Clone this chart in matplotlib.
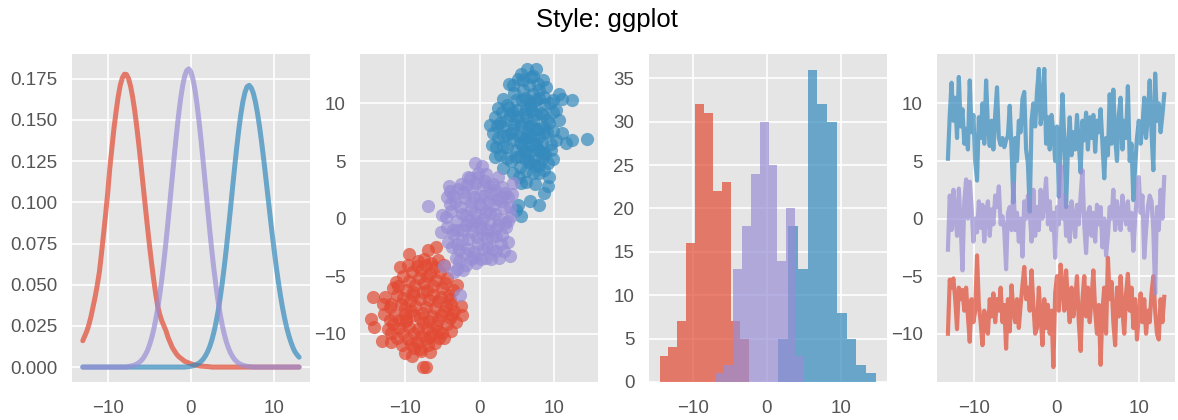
import numpy as np
import matplotlib
matplotlib.use("Agg")
import matplotlib.pyplot as plt

plt.style.use("ggplot")
plt.rcParams["font.family"] = ["Liberation Sans", "DejaVu Sans"]

RED, BLUE, PURPLE = "#E24A33", "#348ABD", "#988ED5"

# ---- panel 1: density curves, read every 0.25 from -13 to 13 ----
kde_x = np.linspace(-13, 13, 105)
kde_red = [0.016, 0.019, 0.022, 0.026, 0.031, 0.037, 0.043, 0.050, 0.058, 0.069,
           0.081, 0.093, 0.106, 0.121, 0.133, 0.145, 0.155, 0.164, 0.171, 0.1755,
           0.1778, 0.1776, 0.1751, 0.1704, 0.1637, 0.1553, 0.1454, 0.1344, 0.1226, 0.1104,
           0.0982, 0.0862, 0.0747, 0.0639, 0.0539, 0.0449, 0.037, 0.032, 0.028, 0.025,
           0.022, 0.018, 0.015, 0.012, 0.010, 0.008, 0.0065, 0.0055, 0.0045, 0.0035,
           0.003, 0.0025, 0.002, 0.0015, 0.0012, 0.001, 0.0008, 0.0006, 0.0005, 0.0004,
           0.0003, 0.0002] + [0.0] * 43
kde_blue = [0.0] * 50 + [
    0.0002, 0.0003, 0.0005, 0.0008, 0.0012, 0.0018, 0.0025, 0.0036, 0.005, 0.0069,
    0.0093, 0.0123, 0.0162, 0.021, 0.0267, 0.0335, 0.0415, 0.0506, 0.0607, 0.0718,
    0.0837, 0.0961, 0.1088, 0.1213, 0.1332, 0.1441, 0.1536, 0.1613, 0.1669, 0.1702,
    0.171, 0.1695, 0.1662, 0.161, 0.1541, 0.1458, 0.1363, 0.1259, 0.1149, 0.1037,
    0.0925, 0.0815, 0.071, 0.0611, 0.052, 0.0437, 0.0363, 0.0298, 0.0242, 0.0194,
    0.0154, 0.012, 0.0093, 0.0075, 0.006]
kde_purple = [0.0] * 22 + [
    0.0004, 0.0006, 0.0009, 0.0013, 0.0019, 0.0027, 0.0038, 0.0053, 0.0073, 0.0098,
    0.0131, 0.0172, 0.0222, 0.0283, 0.0355, 0.0439, 0.0535, 0.0643, 0.076, 0.0886,
    0.1017, 0.1151, 0.1283, 0.1409, 0.1525, 0.1626, 0.1707, 0.1767, 0.1801, 0.181,
    0.1791, 0.1746, 0.1677, 0.1587, 0.148, 0.136, 0.1231, 0.1098, 0.0965, 0.0835,
    0.0712, 0.0598, 0.0495, 0.0404, 0.0325, 0.0257, 0.0201, 0.0154, 0.0117, 0.0087,
    0.0064, 0.0046, 0.0033, 0.0023, 0.0016, 0.0011, 0.0007, 0.0005, 0.0003, 0.0002] + [0.0] * 23

# ---- panel 2: scatter clusters ----
sc_red_x = [-6.95, -5.85, -9.4, -8.3, -7.5, -6.5, -5.6, -14.2, -12.7, -12.0, -14.5, -14.1,
            -13.1, -11.8, -10.0, -9.1, -7.8, -7.6, -7.2, -2.55, -2.33, -3.0, -4.1, -3.65,
            -4.75, -5.6, -11.2, -10.2, -9.0, -7.8, -6.6, -5.3, -4.3, -11.0, -9.8, -8.6,
            -7.4, -6.2, -5.0, -3.8, -10.5, -9.3, -8.0, -6.8, -5.6, -4.5, -11.3, -10.0,
            -8.8, -7.6, -6.4, -5.2, -3.2, -10.8, -9.5, -8.2, -7.0, -5.8, -4.4, -12.2,
            -11.0, -9.6, -8.4, -7.2, -6.0, -12.8, -8.8, -6.6, -10.4, -8.9, -7.1, -9.9,
            -10.6, -9.6, -8.4, -7.2, -6.0, -4.8, -10.9, -9.5, -8.1, -7.0, -5.8, -4.6,
            -3.6, -11.6, -10.2, -8.9, -7.6, -6.2, -5.1, -4.0, -11.8, -10.0, -8.6, -7.2,
            -6.0, -4.8, -3.4, -12.0, -10.6, -9.2, -8.0, -6.8, -5.6, -4.0, -11.6, -10.2,
            -8.8, -7.6, -6.4, -5.0, -3.8, -9.2, -7.8, -6.6, -5.4, -11.8, -9.9, -8.0,
            -6.9, -12.9]
sc_red_y = [-2.7, -2.5, -3.1, -3.7, -3.5, -3.9, -3.6, -6.85, -6.85, -7.7, -8.7, -9.4,
            -10.6, -10.7, -11.7, -11.9, -11.5, -12.9, -12.9, -7.6, -8.4, -5.8, -6.6, -8.4,
            -10.4, -9.8, -5.5, -5.0, -4.6, -4.5, -4.8, -4.6, -5.2, -6.6, -6.2, -5.8,
            -5.6, -5.9, -6.0, -7.4, -7.4, -7.2, -7.0, -7.1, -7.2, -7.6, -8.4, -8.3,
            -8.4, -8.2, -8.5, -8.4, -9.0, -9.5, -9.4, -9.6, -9.5, -9.3, -9.2, -9.6,
            -10.4, -10.5, -10.7, -10.5, -10.8, -8.3, -11.2, -11.6, -11.0, -6.4, -6.2, -8.9,
            -4.2, -4.0, -4.1, -4.0, -4.2, -4.0, -5.9, -5.4, -5.2, -5.0, -5.3, -5.6,
            -6.2, -6.0, -6.9, -6.6, -6.4, -6.6, -6.8, -7.0, -7.4, -7.8, -7.6, -7.7,
            -7.8, -8.0, -8.0, -8.8, -8.8, -8.0, -8.6, -8.9, -8.8, -8.6, -9.2, -9.9,
            -9.9, -9.1, -9.9, -9.9, -9.8, -10.9, -10.2, -10.3, -10.4, -9.9, -8.8, -11.3,
            -11.0, -7.4]
sc_blue_x = [6.37, 7.56, 5.58, 6.9, 5.14, 8.44, 4.48, 3.96, 8.88, 8.0, 7.12, 5.8,
             3.16, 3.6, 4.92, 10.64, 11.08, 12.4, 9.76, 8.66, 2.95, 2.07, 1.41, 2.73,
             4.48, 6.68, 7.56, 9.76, 10.64, 9.32, 8.44, 7.12, 6.24, 5.36, 4.48, 3.6,
             2.5, 1.85, 1.63, 3.16, 4.48, 5.36, 6.68, 8.0, 10.2, 11.52, 12.4, 14.42,
             2.73, 2.07, 3.6, 4.92, 6.24, 7.12, 8.44, 9.1, 8.0, 6.68, 5.36, 3.16,
             4.48, 6.24, 7.12, 8.0, 9.32, 9.1, 8.66, 5.58, 6.68, 8.0, 5.14, 5.58,
             4.92, 6.5, 7.5, 7.0, 8.0, 6.0, 7.8, 6.2, 8.5, 5.8, 7.3, 8.3,
             6.0, 9.0, 9.5, 5.0, 4.0, 3.0, 7.0, 8.0, 6.0,
             5.8, 7.2, 6.6, 7.8, 4.6, 5.6, 6.6, 7.6, 8.6, 9.4, 3.9, 5.0,
             6.0, 7.0, 8.2, 9.0, 10.2, 2.4, 3.6, 4.6, 5.6, 6.6, 7.6, 8.6,
             9.8, 11.0, 2.3, 3.1, 4.2, 5.2, 6.2, 7.2, 8.4, 9.6, 2.2, 3.6,
             4.8, 5.8, 6.8, 7.8, 8.8, 9.8, 4.2, 5.4, 6.6, 7.6, 8.6, 5.2,
             6.2, 7.4]
sc_blue_y = [13.0, 13.0, 12.58, 12.29, 12.14, 12.0, 11.57, 11.71, 11.42, 11.14, 10.85, 11.14,
             10.42, 9.84, 10.27, 10.85, 10.42, 10.33, 10.27, 9.99, 9.27, 8.83, 8.12, 8.26,
             9.27, 9.7, 9.12, 9.27, 8.55, 8.26, 7.97, 8.55, 8.83, 8.26, 7.68, 7.25,
             6.96, 7.4, 6.39, 6.24, 6.82, 6.53, 7.11, 7.11, 6.82, 6.53, 6.82, 6.9,
             5.53, 5.38, 5.24, 5.38, 5.67, 5.96, 5.67, 4.81, 4.66, 4.81, 4.52, 4.37,
             3.94, 4.09, 3.94, 3.94, 3.65, 2.79, 2.22, 3.08, 1.5, 1.15, 1.21, 0.2,
             0.78, 7.5, 6.5, 8.0, 6.0, 6.0, 7.8, 9.5, 9.0, 7.0, 5.0, 5.2,
             5.2, 7.5, 6.5, 8.8, 9.0, 8.0, 10.0, 10.5, 10.5,
             12.0, 12.4, 11.6, 11.7, 10.9, 10.3, 10.2, 10.3, 10.6, 10.0, 9.6, 9.4,
             9.2, 9.4, 9.2, 8.6, 9.4, 9.6, 8.6, 8.2, 8.0, 8.0, 7.8, 7.4,
             7.6, 7.4, 8.0, 7.2, 7.4, 7.2, 7.0, 7.0, 6.6, 6.0, 6.2, 6.2,
             6.0, 6.2, 6.4, 6.0, 5.6, 5.2, 5.0, 5.4, 5.0, 4.6, 4.2, 3.6,
             3.2, 3.0]
sc_purple_x = [-6.9, -5.2, -4.75, -2.6, -3.0, -3.2, -2.8, -0.6, 0.3, 0.8, -0.3, -1.3,
               -2.5, -4.1, -4.3, -3.5, -2.2, -1.0, 0.5, 1.8, 3.0, 3.8, 4.5, 2.3,
               1.2, 0.0, -1.2, -2.6, -3.8, -4.5, -3.0, -1.8, -0.6, 0.8, 2.0, 3.2,
               4.2, 3.5, 2.5, 1.4, 0.2, -1.0, -2.2, -3.6, -4.2, -3.0, -1.6, -0.3,
               1.0, 2.2, 3.8, 3.2, 1.6, 0.4, -0.8, -2.0, -1.2, 0.2, 1.5, 2.6,
               4.0, -2.2, -0.5, 0.5, -0.5, 1.5, -1.8, 2.8, 0.0, -3.5,
               -3.9, -2.9, -1.7, -0.5, 0.7, 2.0, 3.4, -3.3, -2.0, -0.8, 0.6, 1.8,
               3.0, 4.0, -4.0, -2.4, -1.2, 0.2, 1.4, 2.6, 3.8, -4.3, -2.9, -1.4,
               0.0, 1.0, 2.0, 3.0, -3.7, -2.4, -1.0, 0.5, 1.6, 2.8, -2.7, -1.5,
               -0.2, 1.0, 2.2, 0.8, -0.8, -1.8, 3.4, 4.3, -0.2, 1.3, -1.6, -5.0,
               2.4, -3.4]
sc_purple_y = [1.05, -1.2, -4.1, -6.6, -4.4, -3.4, -2.7, 4.8, 4.6, 3.9, 3.6, 3.5,
               3.0, 2.8, 1.9, 2.0, 2.3, 2.6, 2.9, 3.0, 2.7, 1.9, 3.1, 1.7,
               1.5, 1.3, 1.4, 1.0, 0.7, 0.1, -0.2, 0.3, 0.5, 0.6, 0.4, 0.9,
               0.2, -0.7, -0.6, -0.5, -0.8, -0.6, -1.0, -1.3, -2.0, -2.2, -1.8, -1.6,
               -1.7, -1.5, -2.0, -2.8, -2.6, -2.6, -2.9, -3.0, -3.5, -3.5, -3.5, -3.4,
               -3.25, -4.5, -3.9, 0.0, -0.2, 2.2, -0.6, 1.5, 2.0, -1.0,
               2.4, 2.6, 2.9, 3.1, 3.3, 2.5, 2.2, 1.4, 1.8, 1.9, 2.0, 1.2,
               1.9, 1.0, 1.3, 0.4, 0.8, 0.9, 0.5, 0.0, -0.2, -0.7, -1.0, -0.2,
               -0.4, -1.0, -0.9, -1.4, -2.5, -1.9, -1.2, -1.3, -1.6, -2.2, -3.7, -2.6,
               -2.2, -2.5, -2.8, -3.4, -3.3, -4.0, -0.4, 2.1, 4.0, 2.8, 3.6, 0.3,
               3.6, -4.6]

# ---- panel 3: histogram counts and bin edges ----
hist_red = [3, 4, 7, 16, 32, 31, 22, 23, 7, 5]
edges_red = [-14.47, -13.27, -12.06, -10.86, -9.66, -8.45, -7.25, -6.04, -4.84, -3.63, -2.43]
hist_blue = [5, 18, 13, 36, 32, 30, 8, 5, 2, 1]
edges_blue = [1.55, 2.86, 4.18, 5.49, 6.81, 8.12, 9.43, 10.75, 12.06, 13.38, 14.69]
hist_purple = [1, 2, 13, 18, 24, 30, 25, 14, 20, 3]
edges_purple = [-6.95, -5.76, -4.56, -3.37, -2.17, -0.98, 0.22, 1.41, 2.61, 3.80, 5.00]

# ---- panel 4: noisy series ----
line_x = np.linspace(-13.2, 13.05, 120)
line_red = [-10.0, -5.3, -6.0, -5.2, -7.0, -9.6, -6.0, -7.0, -6.2, -8.0,
            -6.0, -8.5, -10.7, -7.0, -9.0, -8.0, -3.2, -7.5, -9.0, -11.0,
            -8.0, -9.5, -10.0, -7.0, -8.5, -6.5, -9.0, -7.0, -8.0, -6.0,
            -9.0, -7.5, -11.3, -7.0, -9.8, -5.8, -8.0, -9.0, -7.0, -9.5,
            -7.5, -5.8, -4.2, -7.0, -6.0, -8.0, -4.5, -7.5, -10.0, -9.5,
            -6.0, -8.5, -11.0, -7.0, -9.5, -7.5, -10.0, -8.0, -12.9, -6.5,
            -5.0, -8.0, -4.0, -6.0, -8.0, -4.5, -7.0, -9.0, -6.0, -8.5,
            -7.0, -5.0, -9.0, -11.5, -7.0, -5.0, -8.5, -6.0, -9.0, -7.0,
            -4.5, -8.0, -10.0, -7.5, -12.7, -8.0, -6.0, -10.0, -3.4, -7.0,
            -5.5, -9.0, -11.0, -6.0, -8.5, -5.0, -8.0, -10.0, -6.5, -4.8,
            -8.0, -6.0, -9.5, -7.0, -10.5, -8.5, -6.5, -9.0, -7.0, -10.0,
            -8.0, -9.0, -6.5, -5.0, -8.0, -10.0, -10.5, -7.0, -9.0, -6.8]
line_blue = [5.2, 9.0, 11.8, 8.5, 10.5, 7.0, 12.3, 8.0, 9.5, 6.5,
             7.8, 6.0, 12.0, 7.5, 9.0, 5.0, 3.3, 8.8, 7.0, 10.0,
             6.5, 12.0, 8.0, 6.3, 8.5, 6.0, 9.0, 11.4, 7.0, 6.4,
             7.0, 6.2, 6.8, 7.2, 9.8, 6.0, 1.4, 7.0, 5.0, 8.5,
             7.5, 10.4, 11.0, 6.0, 4.8, 0.6, 8.5, 10.0, 8.0, 11.0,
             13.0, 8.2, 9.5, 13.0, 6.5, 8.8, 6.0, 9.0, 7.5, 5.0,
             8.0, 1.9, 6.5, 10.8, 7.0, 1.0, 6.0, 8.8, 5.5, 7.5,
             6.0, 9.0, 6.5, 4.0, 8.5, 6.8, 9.2, 6.0, 8.8, 7.0,
             9.0, 5.8, 8.5, 7.5, 9.5, 6.5, 3.5, 7.0, 5.5, 10.8,
             6.5, 11.2, 7.0, 5.0, 9.0, 10.5, 6.0, 8.5, 7.0, 11.5,
             5.0, 6.5, 1.6, 4.5, 7.0, 8.5, 6.5, 8.0, 10.5, 7.0,
             9.0, 12.0, 7.5, 4.2, 12.6, 8.5, 10.0, 7.5, 9.0, 10.8]
line_purple = [-2.7, 2.0, -1.0, 2.5, 0.5, -1.5, 2.6, -0.5, -4.5, 1.5,
               3.4, 0.0, 3.2, 1.0, -2.0, 0.0, -1.2, 1.5, -0.8, 1.2,
               -2.0, 0.5, 1.5, -1.5, 0.8, -0.5, 2.0, 1.0, 2.8, -0.5,
               0.2, -1.0, -4.4, 0.5, 1.0, -1.0, 3.0, -1.0, 0.5, -2.0,
               0.0, -3.3, 1.5, 0.0, 2.0, 0.5, -2.0, 2.5, -1.5, 1.0,
               -1.0, 2.5, 0.0, 1.5, 3.5, -0.5, 1.5, -1.0, 0.5, -3.4,
               1.0, -0.5, 4.6, 0.0, 2.0, -1.5, 1.0, -2.0, 1.5, 0.0,
               -1.6, 1.2, -0.5, 2.0, 4.2, -0.5, -3.0, 0.5, 1.0, -1.5,
               0.5, -2.0, 1.2, -0.5, 1.0, -2.5, 0.0, -3.2, -1.5, 1.0,
               0.0, 2.5, -1.0, 1.5, 0.0, -1.0, 2.0, 0.5, -0.5, 1.5,
               -1.0, 0.5, -2.8, 0.0, 2.0, 3.6, 0.5, 2.0, -3.4, -1.0,
               1.0, 2.0, 1.5, -1.0, -6.5, 1.0, -1.0, 2.5, 0.0, 3.6]

fig, axes = plt.subplots(1, 4, figsize=(11.78, 4.2), dpi=100)
fig.subplots_adjust(left=0.0611, right=0.9975, bottom=0.0905, top=0.8714, wspace=0.212)

ax = axes[0]
for ys, c in [(kde_red, RED), (kde_blue, BLUE), (kde_purple, PURPLE)]:
    ax.plot(kde_x, ys, color=c, lw=3.6, alpha=0.7, solid_capstyle="round",
            solid_joinstyle="round")
ax.set_yticks([0.0, 0.025, 0.05, 0.075, 0.1, 0.125, 0.15, 0.175])

ax = axes[1]
for xs, ys, c in [(sc_red_x, sc_red_y, RED), (sc_blue_x, sc_blue_y, BLUE),
                  (sc_purple_x, sc_purple_y, PURPLE)]:
    ax.scatter(xs, ys, s=90, color=c, alpha=0.7, linewidths=0)
ax.set_yticks([-10, -5, 0, 5, 10])

ax = axes[2]
for counts, edges, c in [(hist_red, edges_red, RED), (hist_blue, edges_blue, BLUE),
                         (hist_purple, edges_purple, PURPLE)]:
    ax.bar(edges[:-1], counts, width=np.diff(edges), align="edge",
           color=c, alpha=0.7, linewidth=0)
ax.set_yticks([0, 5, 10, 15, 20, 25, 30, 35])

ax = axes[3]
for ys, c in [(line_red, RED), (line_blue, BLUE), (line_purple, PURPLE)]:
    ax.plot(line_x, ys, color=c, lw=3.0, alpha=0.7)
ax.set_yticks([-10, -5, 0, 5, 10])

for ax in axes:
    ax.set_xticks([-10, 0, 10])
    ax.grid(True, color="white", lw=1.2)
    ax.set_axisbelow(True)
    ax.tick_params(axis="both", length=0, labelsize=13.5, labelcolor="#555555")
    ax.tick_params(axis="x", pad=13)
    ax.tick_params(axis="y", pad=10.4)
    for sp in ax.spines.values():
        sp.set_visible(False)

fig.suptitle("Style: ggplot", x=0.5149, y=0.9369, va="baseline", fontsize=18.5)

fig.savefig("out.png", dpi=100, facecolor="white")
